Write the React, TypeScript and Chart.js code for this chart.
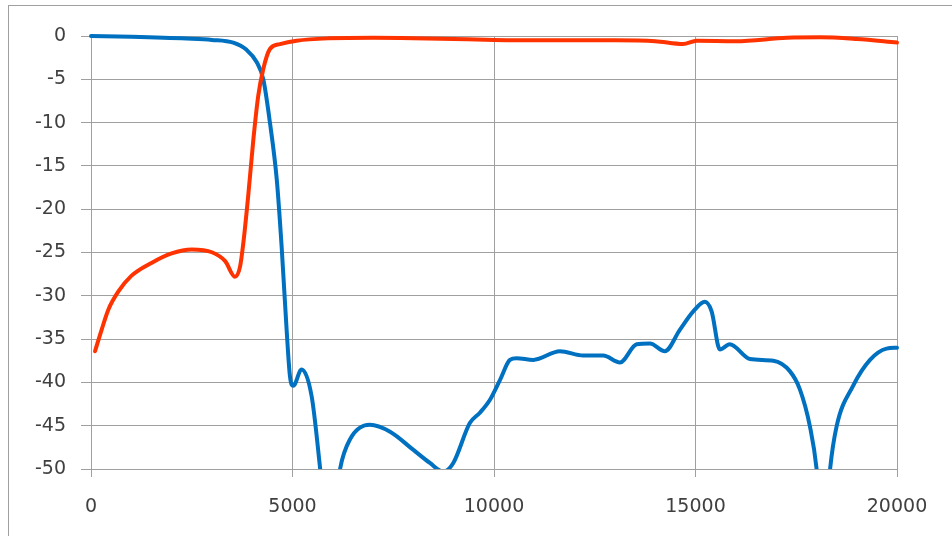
import React, { useEffect, useRef } from 'react';
import { Chart, registerables } from 'chart.js';

Chart.register(...registerables);

const xTickStep = 5000;
const xMin = 0;
const xMax = 20000;
const yTickStep = 5;
const yMin = -50;
const yMax = 0;

const redX = [100, 265, 430, 680, 1000, 1500, 2000, 2500, 3000, 3330, 3570, 3700, 3780, 3900, 4030, 4150, 4275, 4440, 4690, 5100, 5900, 7000, 8000, 9000, 10000, 11000, 12000, 13000, 14000, 14690, 15030, 16000, 17270, 18090, 19000, 20000];
const redY = [-36.4, -33.9, -31.6, -29.5, -27.7, -26.2, -25.1, -24.65, -24.97, -26, -27.8, -26.6, -23.9, -18.5, -11.9, -6.9, -3.8, -1.5, -0.93, -0.54, -0.27, -0.2, -0.25, -0.35, -0.45, -0.5, -0.5, -0.5, -0.6, -0.93, -0.55, -0.6, -0.2, -0.15, -0.35, -0.75];

const blueX = [0, 1000, 2370, 3000, 3530, 3860, 4110, 4275, 4440, 4610, 4730, 4855, 4937, 5020, 5225, 5475, 5680, 5900, 6180, 6425, 6920, 7420, 8000, 8410, 8740, 8990, 9400, 9650, 9900, 10150, 10395, 10560, 10975, 11635, 12215, 12710, 13125, 13540, 13870, 14240, 14615, 14945, 15230, 15400, 15605, 15850, 16350, 16930, 17340, 17590, 17840, 18005, 18170, 18340, 18500, 18910, 19330, 19740, 20000];
const blueY = [0, -0.1, -0.3, -0.45, -0.77, -1.6, -3.0, -5, -10, -16.6, -24.3, -34, -39.3, -40.4, -38.5, -41.6, -49.7, -60, -50, -46.6, -44.9, -45.7, -47.8, -49.3, -50.3, -49.3, -44.7, -43.5, -42, -39.7, -37.4, -37.2, -37.4, -36.4, -36.9, -36.9, -37.7, -35.6, -35.5, -36.4, -33.9, -31.8, -30.7, -31.8, -36.2, -35.6, -37.3, -37.5, -38.7, -40.8, -45.1, -50, -60, -50, -45.1, -40.4, -37.4, -36.1, -36.0];

const toPoints = (xs: number[], ys: number[]) => xs.map((x, i) => ({ x, y: ys[i] }));

export default function App() {
  const canvasRef = useRef<HTMLCanvasElement | null>(null);

  useEffect(() => {
    const canvas = canvasRef.current;
    if (!canvas) return;
    const gridColor = '#a0a0a0';
    const font = { family: 'DejaVu Sans', size: 19 };
    const chart = new Chart(canvas, {
      type: 'line',
      data: {
        datasets: [
          {
            label: 'A',
            data: toPoints(redX, redY),
            borderColor: '#FF3300',
            backgroundColor: '#FF3300',
            borderWidth: 4,
            pointRadius: 0,
            cubicInterpolationMode: 'monotone',
            borderCapStyle: 'round',
            borderJoinStyle: 'round',
            clip: { left: 5, right: 5, top: 5, bottom: 0 },
          },
          {
            label: 'B',
            data: toPoints(blueX, blueY),
            borderColor: '#0070C0',
            backgroundColor: '#0070C0',
            borderWidth: 4,
            pointRadius: 0,
            cubicInterpolationMode: 'monotone',
            borderCapStyle: 'round',
            borderJoinStyle: 'round',
            clip: { left: 5, right: 5, top: 5, bottom: 0 },
          },
        ],
      },
      options: {
        animation: false,
        responsive: false,
        maintainAspectRatio: false,
        events: [],
        layout: { padding: { left: 0, right: 55, top: 36, bottom: 0 } },
        plugins: {
          legend: { display: false },
          tooltip: { enabled: false },
        },
        scales: {
          x: {
            type: 'linear',
            min: xMin,
            max: xMax,
            ticks: {
              stepSize: xTickStep,
              callback: (v: any) => String(v),
              font,
              color: '#404040',
              padding: 19,
              maxRotation: 0,
            },
            grid: { color: gridColor, tickLength: 8, lineWidth: 1 },
            border: { color: gridColor },
            afterFit: (s: any) => {
              s.height = 67;
            },
          },
          y: {
            type: 'linear',
            min: yMin,
            max: yMax,
            ticks: {
              stepSize: yTickStep,
              callback: (v: any) => String(v),
              font,
              color: '#404040',
              padding: 15,
            },
            grid: { color: gridColor, tickLength: 10, lineWidth: 1 },
            border: { color: gridColor },
            afterFit: (s: any) => {
              s.width = 91;
            },
          },
        },
      },
    } as any);
    return () => chart.destroy();
  }, []);

  return (
    <div style={{ position: 'fixed', left: 0, top: 0, width: 952, height: 536, overflow: 'hidden', background: '#fff' }}>
      <div style={{ position: 'absolute', left: 8, top: 5, width: 1000, height: 600, border: '1px solid #a0a0a0' }} />
      <canvas ref={canvasRef} width={952} height={536} style={{ position: 'absolute', left: 0, top: 0, display: 'block' }} />
    </div>
  );
}
